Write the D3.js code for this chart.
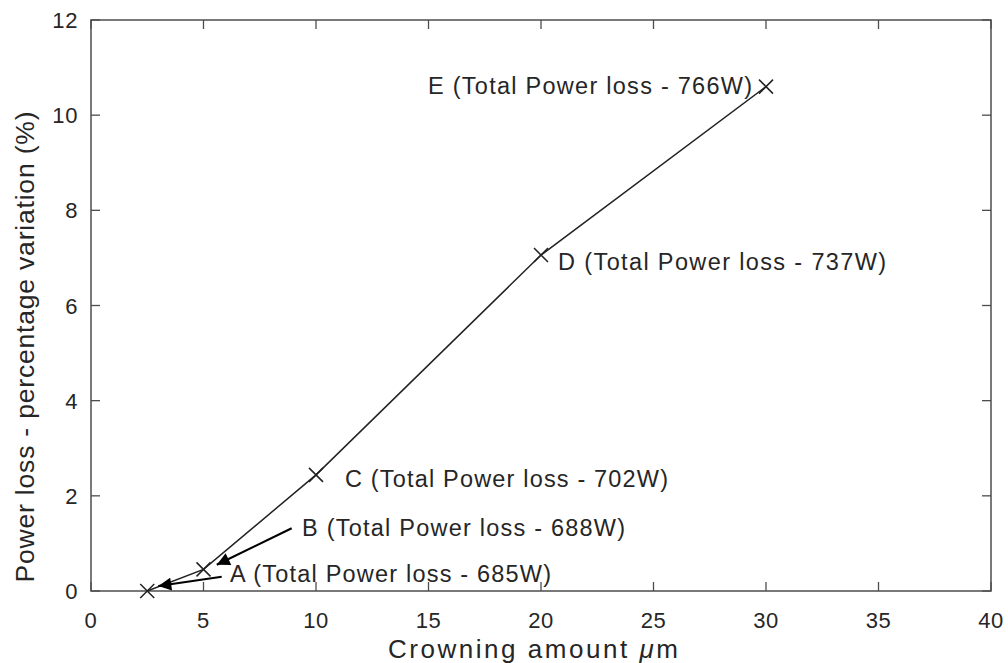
<!DOCTYPE html>
<html><head><meta charset="utf-8">
<script src="https://cdn.jsdelivr.net/npm/d3@7"></script>
<style>
body{margin:0;background:#fff}
svg{display:block}
text{font-family:"Liberation Sans",Arial,Helvetica,sans-serif;fill:#262626}
</style>
</head><body>
<svg id="c" width="1008" height="663"></svg>
<script>
// ---- data ----
const crowning = [2.5, 5, 10, 20, 30];              // µm
const lossPct  = [0, 0.455, 2.44, 7.06, 10.6];     // %
const pointNames = ["A", "B", "C", "D", "E"];
const totalLoss = ["685W", "688W", "702W", "737W", "766W"];
const xTicks = [0, 5, 10, 15, 20, 25, 30, 35, 40];
const yTicks = [0, 2, 4, 6, 8, 10, 12];
// annotation anchors (data units): label start x, baseline y
const labelX = [6.18, 9.38, 11.29, 20.76, 14.98];
const labelY = [0.19, 1.155, 2.185, 6.74, 10.44];
const labelW = [321, 323, 323, 328, 324];
// arrows for A and B (data units): tail -> head
const arrowTail = [[5.81, 0.30], [8.92, 1.32]];
const arrowHead = [[2.99, 0.105], [5.59, 0.55]];

// ---- layout ----
const L = 91, R = 991, T = 20, B = 591;
const svg = d3.select("#c");
const x = d3.scaleLinear().domain([0, 40]).range([L, R]);
const y = d3.scaleLinear().domain([0, 12]).range([B, T]);
const axisCol = "#4d4d4d";
const tickLen = 9;

const g = svg.append("g");
xTicks.forEach(t => {
  g.append("line").attr("x1", x(t)).attr("x2", x(t)).attr("y1", B).attr("y2", B - tickLen)
    .attr("stroke", axisCol).attr("stroke-width", 1.3);
  g.append("line").attr("x1", x(t)).attr("x2", x(t)).attr("y1", T).attr("y2", T + tickLen)
    .attr("stroke", axisCol).attr("stroke-width", 1.3);
  g.append("text").attr("x", x(t)).attr("y", 628).attr("text-anchor", "middle")
    .attr("font-size", 22).style("letter-spacing", "0.6px").text(t);
});
yTicks.forEach(t => {
  g.append("line").attr("x1", L).attr("x2", L + tickLen).attr("y1", y(t)).attr("y2", y(t))
    .attr("stroke", axisCol).attr("stroke-width", 1.3);
  g.append("line").attr("x1", R).attr("x2", R - tickLen).attr("y1", y(t)).attr("y2", y(t))
    .attr("stroke", axisCol).attr("stroke-width", 1.3);
  g.append("text").attr("x", 78).attr("y", y(t) + 8).attr("text-anchor", "end")
    .attr("font-size", 22).style("letter-spacing", "0.6px").text(t);
});
svg.append("rect").attr("x", L).attr("y", T).attr("width", R - L).attr("height", B - T)
  .attr("fill", "none").attr("stroke", axisCol).attr("stroke-width", 1.5);

// data line
const pts = crowning.map((c, i) => [c, lossPct[i]]);
svg.append("path").datum(pts)
  .attr("d", d3.line().x(d => x(d[0])).y(d => y(d[1])))
  .attr("fill", "none").attr("stroke", "#222").attr("stroke-width", 1.5);
const ms = 7;
pts.forEach(d => {
  const cx = x(d[0]), cy = y(d[1]);
  svg.append("path").attr("d", `M${cx-ms},${cy-ms}L${cx+ms},${cy+ms}M${cx-ms},${cy+ms}L${cx+ms},${cy-ms}`)
    .attr("stroke", "#222").attr("stroke-width", 1.5).attr("fill", "none");
});

// labels
pointNames.forEach((n, i) => {
  svg.append("text").attr("x", x(labelX[i])).attr("y", y(labelY[i]))
    .attr("font-size", 23.5).attr("textLength", labelW[i])
    .text(`${n} (Total Power loss - ${totalLoss[i]})`);
});

// arrows
const defs = svg.append("defs");
defs.append("marker").attr("id", "ah").attr("viewBox", "0 0 10 10").attr("refX", 10).attr("refY", 5)
  .attr("markerWidth", 19).attr("markerHeight", 13).attr("markerUnits", "userSpaceOnUse")
  .attr("orient", "auto")
  .append("path").attr("d", "M0,0L10,5L0,10Z").attr("fill", "#000");
arrowTail.forEach((tl, i) => {
  const hd = arrowHead[i];
  svg.append("line").attr("x1", x(tl[0])).attr("y1", y(tl[1])).attr("x2", x(hd[0])).attr("y2", y(hd[1]))
    .attr("stroke", "#000").attr("stroke-width", 2.2).attr("marker-end", "url(#ah)");
});

// axis titles
const xl = svg.append("text").attr("x", 533).attr("y", 658).attr("text-anchor", "middle")
  .attr("font-size", 26).attr("textLength", 290);
xl.append("tspan").text("Crowning amount ");
xl.append("tspan").attr("font-style", "italic").text("μ");
xl.append("tspan").text("m");

svg.append("text").attr("transform", "translate(34,347) rotate(-90)").attr("text-anchor", "middle")
  .attr("font-size", 26.5).attr("textLength", 471)
  .text("Power loss - percentage variation (%)");
</script>
</body></html>
